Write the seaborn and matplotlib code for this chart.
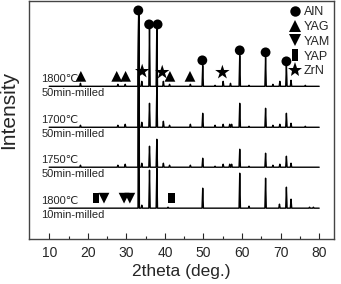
import numpy as np
import pandas as pd
import matplotlib.pyplot as plt
from matplotlib.lines import Line2D
import seaborn as sns

# peak positions (2theta) and heights for each pattern, baselines in plot units
samples = ["1800_50", "1700_50", "1750_50", "1800_10"]
temp_labels = ["1800\u2103", "1700\u2103", "1750\u2103", "1800\u2103"]
mill_labels = ["50min-milled", "50min-milled", "50min-milled", "10min-milled"]
baselines = [153, 112, 72, 31]

peaks_1800_50 = [18.1, 27.8, 29.7, 33.2, 34.0, 36.0, 37.9, 39.6, 41.2, 46.6, 49.8, 53.0,
                 55.1, 57.0, 59.4, 61.8, 66.1, 68.0, 69.8, 71.5, 72.7, 76.4]
heights_1800_50 = [3, 2, 2, 75, 5, 58, 62, 5, 2, 2, 21, 1,
                   5, 3, 31, 1, 29, 2, 5, 21, 6, 1]

peaks_1700_50 = [18.1, 27.8, 29.7, 33.2, 34.0, 36.0, 37.9, 39.6, 41.2, 46.6, 49.8, 53.0,
                 55.1, 56.8, 57.3, 59.4, 61.8, 66.1, 68.0, 69.8, 71.5, 72.7, 76.4]
heights_1700_50 = [2, 2, 3, 116, 5, 24, 41, 6, 2, 3, 14, 2,
                   3, 3, 3, 24, 1, 19, 2, 3, 14, 4, 1]

peaks_1750_50 = [18.1, 27.8, 29.7, 33.2, 34.0, 36.0, 37.9, 39.6, 41.2, 46.6, 49.8, 53.0,
                 55.1, 56.8, 57.3, 59.4, 61.8, 66.1, 68.0, 69.8, 71.5, 72.7]
heights_1750_50 = [2, 2, 3, 156, 4, 21, 28, 4, 2, 2, 9, 1,
                   3, 3, 3, 18, 1, 14, 2, 3, 11, 4]

peaks_1800_10 = [33.2, 34.0, 36.0, 37.9, 40.8, 49.8, 59.4, 61.8, 66.1, 69.7, 71.5, 72.7, 77.5, 78.5]
heights_1800_10 = [197, 3, 38, 40, 1, 20, 35, 2, 30, 4, 21, 9, 1, 1]

all_peaks = [peaks_1800_50, peaks_1700_50, peaks_1750_50, peaks_1800_10]
all_heights = [heights_1800_50, heights_1700_50, heights_1750_50, heights_1800_10]

# phase markers: 2theta and height in plot units
aln_x = [33.1, 35.9, 38.1, 49.7, 59.4, 66.1, 71.5]
aln_y = [229, 215, 215, 179, 189, 187, 178]
yag_x = [18.2, 27.5, 29.8, 41.3, 46.5]
yag_y = [163, 163, 163, 163, 163]
zrn_x = [34.1, 39.3, 54.9]
zrn_y = [168, 167, 167]
yam_x = [24.2, 29.4, 30.9]
yam_y = [41, 41, 41]
yap_x = [22.1, 41.7]
yap_y = [41, 41]

start, end = 10, 80
half_width = 0.18

rows = []
for name, base, px, ph in zip(samples, baselines, all_peaks, all_heights):
    xs = [start]
    ys = [base]
    for p, h in zip(px, ph):
        xs += [p - half_width, p, p + half_width]
        ys += [base, base + h, base]
    xs.append(end)
    ys.append(base)
    rows.append(pd.DataFrame({"2theta": xs, "intensity": ys, "sample": name}))
df = pd.concat(rows, ignore_index=True)

sns.set_style("ticks")
plt.rcParams["font.family"] = ["Liberation Sans", "DejaVu Sans"]

fig = plt.figure(figsize=(3.41, 2.84), dpi=100)
ax = fig.add_axes([0.085, 0.158, 0.894, 0.837])

sns.lineplot(data=df, x="2theta", y="intensity", units="sample", estimator=None,
             color="black", lw=1.0, sort=False, ax=ax)

rect = [(-0.6, -1), (0.6, -1), (0.6, 1), (-0.6, 1), (-0.6, -1)]
sns.scatterplot(x=aln_x, y=aln_y, marker="o", s=50, color="black", edgecolor="none", ax=ax)
sns.scatterplot(x=yag_x, y=yag_y, marker="^", s=60, color="black", edgecolor="none", ax=ax)
sns.scatterplot(x=zrn_x, y=zrn_y, marker="*", s=120, color="black", edgecolor="none", ax=ax)
sns.scatterplot(x=yam_x, y=yam_y, marker="v", s=60, color="black", edgecolor="none", ax=ax)
sns.scatterplot(x=yap_x, y=yap_y, marker=rect, s=55, color="black", edgecolor="none", ax=ax)

for base, t, m in zip(baselines, temp_labels, mill_labels):
    ax.text(8.0, base + 2.5, t, fontsize=8, va="bottom", ha="left")
    ax.text(8.0, base - 1.5, m, fontsize=8, va="top", ha="left")

ax.set_xlim(4.75, 83.8)
ax.set_ylim(0, 238)
ax.set_xticks(range(10, 90, 10))
ax.set_xticks(range(15, 85, 10), minor=True)
ax.set_yticks([])
ax.tick_params(axis="x", direction="in", length=4, width=0.8, labelsize=10, pad=5)
ax.tick_params(axis="x", which="minor", direction="in", length=2, width=0.8)
for s in ax.spines.values():
    s.set_color("#444444")
    s.set_linewidth(1.0)
ax.set_xlabel("2theta (deg.)", fontsize=12.5, labelpad=3)
ax.set_ylabel("")
fig.text(9 / 341, 1 - 110 / 284, "Intensity", rotation=90, ha="center", va="center", fontsize=15)

handles = [
    Line2D([], [], marker="o", ls="none", color="black", markersize=7.5, markeredgewidth=0),
    Line2D([], [], marker="^", ls="none", color="black", markersize=8, markeredgewidth=0),
    Line2D([], [], marker="v", ls="none", color="black", markersize=8, markeredgewidth=0),
    Line2D([], [], marker=rect, ls="none", color="black", markersize=8, markeredgewidth=0),
    Line2D([], [], marker="*", ls="none", color="black", markersize=11, markeredgewidth=0),
]
ax.legend(handles, ["AlN", "YAG", "YAM", "YAP", "ZrN"], loc="upper right",
          bbox_to_anchor=(1.0, 0.995), frameon=False, fontsize=9, handlelength=0.8,
          handletextpad=0.3, labelspacing=0.22, borderpad=0.2, borderaxespad=0.1)

fig.savefig("out.png", dpi=100)
